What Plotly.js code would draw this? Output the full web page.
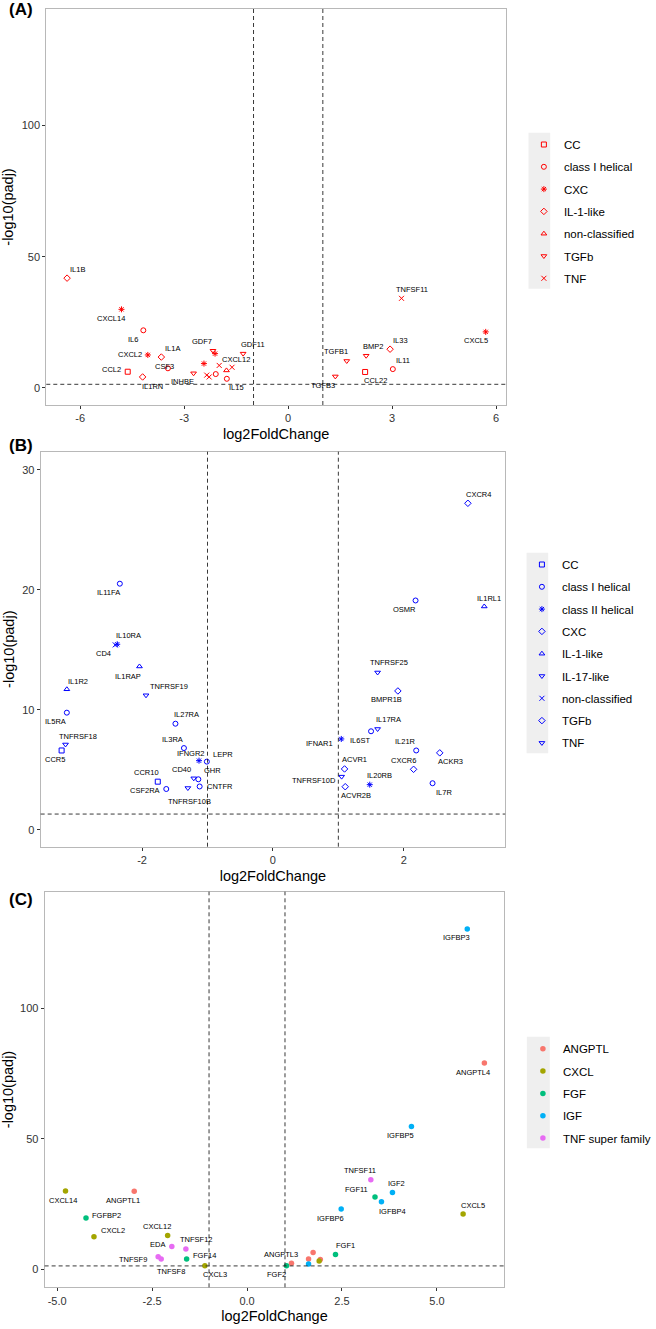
<!DOCTYPE html>
<html>
<head>
<meta charset="utf-8">
<script src="https://cdn.plot.ly/plotly-3.0.1.min.js"></script>
<style>html,body{margin:0;padding:0;background:#fff;}#chart{width:656px;height:1329px;}</style>
</head>
<body>
<div id="chart"></div>
<script>
// ---------- Panel A data ----------
const A_categories = ['CC','class I helical','CXC','IL-1-like','non-classified','TGFb','TNF'];
const A_gene = ['IL1B','CXCL14','IL6','CXCL2','IL1A','CSF3','CCL2','IL1RN','INHBE','','GDF7','CXCL12','','','','','','','IL15','GDF11','TNFSF11','CXCL5','IL33','BMP2','TGFB1','IL11','CCL22','TGFB3'];
const A_lfc  = [-6.38,-4.81,-4.18,-4.05,-3.66,-3.47,-4.63,-4.20,-2.73,-2.43,-2.17,-2.11,-2.35,-2.28,-2.09,-1.99,-1.78,-1.62,-1.77,-1.30,3.27,5.70,2.94,2.25,1.69,3.02,2.22,1.36];
const A_padj = [41.8,29.9,21.9,12.5,11.7,7.4,6.1,4.1,5.5,9.2,14.1,13.0,4.8,4.1,5.2,8.5,6.6,7.8,3.4,13.0,34.1,21.3,14.7,12.2,10.2,7.1,6.0,4.3];
const A_cat  = ['IL-1-like','CXC','class I helical','CXC','IL-1-like','class I helical','CC','IL-1-like','TGFb','CXC','TGFb','CXC','TNF','TNF','class I helical','TNF','non-classified','TNF','class I helical','TGFb','TNF','CXC','IL-1-like','TGFb','TGFb','class I helical','CC','TGFb'];

// ---------- Panel B data ----------
const B_categories = ['CC','class I helical','class II helical','CXC','IL-1-like','IL-17-like','non-classified','TGFb','TNF'];
const B_gene = ['IL11FA','IL10RA','CD4','IL1RAP','IL1R2','TNFRSF19','IL5RA','IL27RA','TNFRSF18','CCR5','IL3RA','IFNGR2','LEPR','GHR','CD40','CNTFR','TNFRSF10B','CCR10','CSF2RA','CXCR4','OSMR','IL1RL1','TNFRSF25','BMPR1B','IL17RA','IL6ST','IFNAR1','IL21R','ACKR3','CXCR6','IL7R','ACVR1','TNFRSF10D','ACVR2B','IL20RB'];
const B_lfc  = [-2.34,-2.38,-2.41,-2.04,-3.15,-1.94,-3.15,-1.49,-3.17,-3.23,-1.36,-1.13,-1.01,-1.14,-1.21,-1.12,-1.30,-1.76,-1.63,2.98,2.18,3.23,1.60,1.91,1.60,1.50,1.045,2.19,2.55,2.15,2.44,1.095,1.05,1.105,1.48];
const B_padj = [20.5,15.45,15.4,13.6,11.7,11.2,9.75,8.83,7.1,6.6,6.8,5.75,5.67,4.2,4.28,3.6,3.47,4.0,3.39,27.2,19.1,18.6,13.1,11.56,8.39,8.2,7.56,6.6,6.4,5.03,3.87,5.06,4.42,3.58,3.75];
const B_cat  = ['class I helical','class II helical','non-classified','IL-1-like','IL-1-like','TNF','class I helical','class I helical','TNF','CC','class I helical','class II helical','class I helical','class I helical','TNF','class I helical','TNF','CC','class I helical','CXC','class I helical','IL-1-like','TNF','TGFb','IL-17-like','class I helical','class II helical','class I helical','CXC','CXC','class I helical','TGFb','TNF','TGFb','class II helical'];

// ---------- Panel C data ----------
const C_categories = ['ANGPTL','CXCL','FGF','IGF','TNF super family'];
const C_gene = ['CXCL14','ANGPTL1','FGFBP2','CXCL2','CXCL12','EDA','TNFSF12','FGF14','TNFSF9','TNFSF8','CXCL3','FGF2','ANGPTL3','','','','','','FGF1','IGFBP6','FGF11','IGFBP4','IGF2','IGFBP3','ANGPTL4','IGFBP5','TNFSF11','CXCL5'];
const C_lfc  = [-4.78,-2.97,-4.24,-4.03,-2.09,-1.98,-1.61,-1.59,-2.34,-2.26,-1.11,1.04,1.17,1.62,1.62,1.74,1.93,1.90,2.33,2.48,3.37,3.54,3.83,5.80,6.25,4.33,3.26,5.69];
const C_padj = [30.0,29.9,19.7,12.5,13.0,8.7,7.8,3.95,4.8,3.95,1.4,1.4,2.3,3.95,2.0,6.4,3.8,3.2,5.7,23.1,27.7,25.9,29.5,130.5,79.1,54.8,34.3,21.2];
const C_cat  = ['CXCL','ANGPTL','FGF','CXCL','CXCL','TNF super family','TNF super family','FGF','TNF super family','TNF super family','CXCL','FGF','ANGPTL','ANGPTL','IGF','ANGPTL','ANGPTL','CXCL','FGF','IGF','FGF','IGF','IGF','IGF','ANGPTL','IGF','TNF super family','CXCL'];

// ---------- styles ----------
const A_symbols = {'CC':'square-open','class I helical':'circle-open','CXC':'asterisk-open','IL-1-like':'diamond-open','non-classified':'triangle-up-open','TGFb':'triangle-down-open','TNF':'x-thin-open'};
const B_symbols = {'CC':'square-open','class I helical':'circle-open','class II helical':'asterisk-open','CXC':'diamond-open','IL-1-like':'triangle-up-open','IL-17-like':'triangle-down-open','non-classified':'x-thin-open','TGFb':'diamond-open','TNF':'triangle-down-open'};
const C_colors = {'ANGPTL':'#F8766D','CXCL':'#A3A500','FGF':'#00BF7D','IGF':'#00B0F6','TNF super family':'#E76BF3'};

// label offsets in px [dx, dy] (dy positive = down)
const A_off = {IL1B:[10,-9],CXCL14:[-10,9],IL6:[-10,9],CXCL2:[-18,0],IL1A:[11,-9],CSF3:[-3,-2],CCL2:[-16,-2],IL1RN:[10,10],INHBE:[-11,8],GDF7:[-11,-9],CXCL12:[21,6],IL15:[10,9],GDF11:[10,-9],TNFSF11:[10,-9],CXCL5:[-10,9],IL33:[10,-9],BMP2:[7,-9],TGFB1:[-11,-9],IL11:[10,-9],CCL22:[10,9],TGFB3:[-12,9]};
const B_off = {IL11FA:[-11,9],IL10RA:[11,-9],CD4:[-12,9],IL1RAP:[-11,10],IL1R2:[11,-8],TNFRSF19:[23,-9],IL5RA:[-11,9],IL27RA:[11,-9],TNFRSF18:[12,-8],CCR5:[-7,9],IL3RA:[-11,-9],IFNGR2:[-8,-7],LEPR:[16,-7],GHR:[14,-9],CD40:[-12,-9],CNTFR:[20,0],TNFRSF10B:[2,13],CCR10:[-11,-9],CSF2RA:[-21,2],CXCR4:[11,-9],OSMR:[-11,9],IL1RL1:[5,-8],TNFRSF25:[11,-10],BMPR1B:[-11,9],IL17RA:[11,-9],IL6ST:[-11,9],IFNAR1:[-22,5],IL21R:[-11,-9],ACKR3:[11,9],CXCR6:[-10,-9],IL7R:[11,9],ACVR1:[10,-9],TNFRSF10D:[-28,4],ACVR2B:[11,9],IL20RB:[10,-9]};
const C_off = {CXCL14:[-2,9],ANGPTL1:[-11,9],FGFBP2:[21,-2],CXCL2:[19,-6],CXCL12:[-11,-9],EDA:[-14,-2],TNFSF12:[11,-9],FGF14:[18,-4],TNFSF9:[-25,3],TNFSF8:[10,12],CXCL3:[10,9],FGF2:[-10,9],ANGPTL3:[-10,-9],FGF1:[10,-9],IGFBP6:[-11,9],FGF11:[-18,-8],IGFBP4:[11,10],IGF2:[4,-9],IGFBP3:[-11,9],ANGPTL4:[-11,9],IGFBP5:[-11,9],TNFSF11:[-11,-9],CXCL5:[10,-9]};

const FONT = 'Liberation Sans, Arial, Helvetica, sans-serif';
const traces = [];
const annotations = [];

function addPanel(cats, gene, lfc, padj, cat, suffix, legendName, markerFn, offs) {
  cats.forEach(c => {
    const idx = cat.map((v,i)=>v===c?i:-1).filter(i=>i>=0);
    traces.push(Object.assign({
      type:'scatter', mode:'markers', name:c,
      x: idx.map(i=>lfc[i]), y: idx.map(i=>padj[i]),
      text: idx.map(i=>gene[i]),
      xaxis:'x'+suffix, yaxis:'y'+suffix, legend:legendName,
      legendgroup: legendName + c, hoverinfo:'text+x+y'
    }, markerFn(c)));
  });
  gene.forEach((g,i) => {
    if (!g) return;
    const o = offs[g] || [0,-9];
    annotations.push({xref:'x'+suffix, yref:'y'+suffix, x:lfc[i], y:padj[i], text:g, showarrow:false,
      xshift:o[0], yshift:-o[1], font:{family:FONT, size:7.5, color:'#000'}});
  });
}

addPanel(A_categories, A_gene, A_lfc, A_padj, A_cat, '', 'legend',
  c => ({marker:{symbol:A_symbols[c], size:5, color:'#FF0000', line:{color:'#FF0000', width:1}}}), A_off);
addPanel(B_categories, B_gene, B_lfc, B_padj, B_cat, '2', 'legend2',
  c => ({marker:{symbol:B_symbols[c], size:5, color:'#0000FF', line:{color:'#0000FF', width:1}}}), B_off);
addPanel(C_categories, C_gene, C_lfc, C_padj, C_cat, '3', 'legend3',
  c => ({marker:{symbol:'circle', size:5.5, color:C_colors[c]}}), C_off);

function xax(range, tickvals, ticktext, domain, anchor) {
  return {domain:domain, range:range, anchor:anchor, tickvals:tickvals, ticktext:ticktext,
    showgrid:false, zeroline:false, showline:true, mirror:true, linecolor:'#b8b8b8', linewidth:1,
    ticks:'outside', ticklen:3, tickcolor:'#333', tickwidth:1,
    tickfont:{family:FONT, size:11, color:'#333'},
    title:{text:'log2FoldChange', font:{family:FONT, size:14.5, color:'#000'}, standoff:5}};
}
function yax(range, tickvals, domain, anchor) {
  return {domain:domain, range:range, anchor:anchor, tickvals:tickvals,
    showgrid:false, zeroline:false, showline:true, mirror:true, linecolor:'#b8b8b8', linewidth:1,
    ticks:'outside', ticklen:3, tickcolor:'#333', tickwidth:1,
    tickfont:{family:FONT, size:11, color:'#333'},
    title:{text:'-log10(padj)', font:{family:FONT, size:14.5, color:'#000'}, standoff:4}};
}

const W = 656, H = 1329;
const px = v => v / W, py = v => 1 - v / H;

function dashLines(suffix, thr) {
  const line = {color:'#222', width:0.9, dash:'4px,3px'};
  return [
    {type:'line', xref:'x'+suffix, yref:'y'+suffix+' domain', x0:-1, x1:-1, y0:0, y1:1, line:line},
    {type:'line', xref:'x'+suffix, yref:'y'+suffix+' domain', x0:1, x1:1, y0:0, y1:1, line:line},
    {type:'line', xref:'x'+suffix+' domain', yref:'y'+suffix, x0:0, x1:1, y0:thr, y1:thr, line:line}
  ];
}
function keyRect(x0,x1,y0,y1){
  return {type:'rect', xref:'paper', yref:'paper', x0:px(x0), x1:px(x1), y0:py(y1), y1:py(y0), fillcolor:'#efefef', line:{width:0}, layer:'below'};
}

const shapes = [].concat(dashLines('',1.3), dashLines('2',1.3), dashLines('3',1.3),
  [keyRect(536.7,558.7,132.7,288.7), keyRect(534.7,556.7,552.7,753.3), keyRect(535,558.3,1036.7,1148.3)]);

[['(A)',9.5],['(B)',445],['(C)',899]].forEach(p => annotations.push({xref:'paper', yref:'paper', x:px(7), y:py(p[1]), xanchor:'left', yanchor:'middle',
  text:'<b>'+p[0]+'</b>', showarrow:false, font:{family:FONT, size:17, color:'#000'}}));

const legendBase = {xanchor:'left', yanchor:'top', bgcolor:'rgba(0,0,0,0)', borderwidth:0,
  font:{family:FONT, size:11.5, color:'#000'}, tracegroupgap:3.3, traceorder:'grouped'};

const layout = {
  width:W, height:H, margin:{l:0, r:0, t:0, b:0}, paper_bgcolor:'#fff', plot_bgcolor:'#fff',
  showlegend:true, hovermode:'closest',
  xaxis: xax([-6.98,6.29], [-6,-3,0,3,6], ['-6','-3','0','3','6'], [px(47), px(514)], 'y'),
  yaxis: yax([-6.6,144.5], [0,50,100], [py(405), py(9)], 'x'),
  xaxis2: xax([-3.55,3.55], [-2,0,2], ['-2','0','2'], [px(41.3), px(513)], 'y2'),
  yaxis2: yax([-1.42,31.5], [0,10,20,30], [py(846.7), py(451.7)], 'x2'),
  xaxis3: xax([-5.33,6.78], [-5,-2.5,0,2.5,5], ['-5.0','-2.5','0.0','2.5','5.0'], [px(45.3), px(512.3)], 'y3'),
  yaxis3: yax([-6.9,144.8], [0,50,100], [py(1287.3), py(891.7)], 'x3'),
  legend: Object.assign({x:px(532), y:py(130)}, legendBase),
  legend2: Object.assign({x:px(530), y:py(550)}, legendBase),
  legend3: Object.assign({x:px(531), y:py(1034.3)}, legendBase),
  shapes: shapes,
  annotations: annotations
};

Plotly.newPlot('chart', traces, layout, {displayModeBar:false, staticPlot:true});
</script>
</body>
</html>
